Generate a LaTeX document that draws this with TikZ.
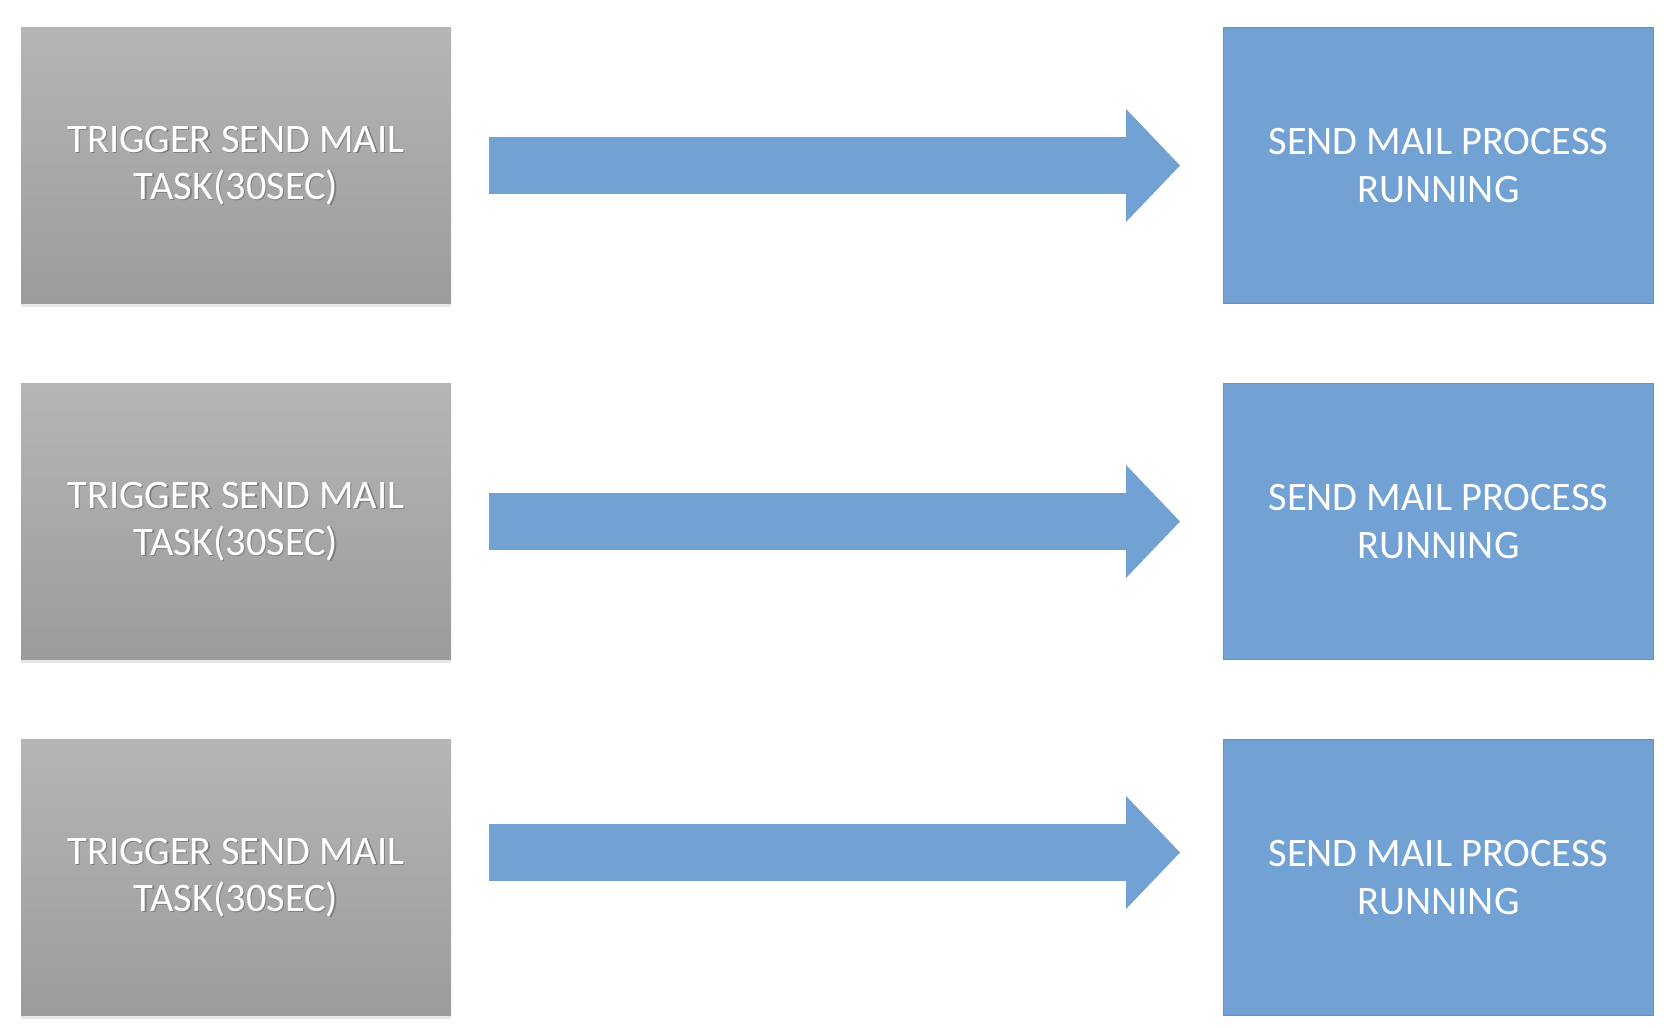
\documentclass[tikz,border=0pt]{standalone}
\usepackage{fontspec}
\setmainfont{Carlito}
\usetikzlibrary{positioning, arrows.meta, shadows}

\definecolor{boxblue}{HTML}{72A1D4}
\definecolor{boxblueline}{HTML}{6391C4}
\newcommand\shtxt[1]{\leavevmode\rlap{\smash{\raisebox{-0.8pt}{\hspace{0.8pt}\textcolor{black!50}{#1}}}}#1}

\begin{document}
\begin{tikzpicture}
    \tikzstyle{task} = [rectangle, minimum width=8.6cm, minimum height=5.52cm, outer sep=0pt,
                        top color=black!29, bottom color=black!39, text=white, align=center,
                        font=\fontsize{23}{27}\selectfont,
                        drop shadow={shadow xshift=0pt, shadow yshift=-2pt, opacity=0.2}]
    \tikzstyle{process} = [rectangle, draw=boxblueline, fill=boxblue, minimum width=8.6cm,
                        minimum height=5.52cm, outer sep=0pt, text=white, align=center,
                        font=\fontsize{23}{27}\selectfont]
    \tikzstyle{bigarrow} = [draw=boxblue, line width=32.1pt,
                        -{Triangle[length=30.7pt, width=64.3pt, line width=0pt]}]
  \useasboundingbox (0,0) rectangle (33.28,-20.56);
  \node[task, anchor=north west] (trig1) at (0.42,-0.55) {\shtxt{TRIGGER SEND MAIL}\\\shtxt{TASK(30SEC)}};
  \node[task, below=1.6cm of trig1] (trig2) {\shtxt{TRIGGER SEND MAIL}\\\shtxt{TASK(30SEC)}};
  \node[task, below=1.6cm of trig2] (trig3) {\shtxt{TRIGGER SEND MAIL}\\\shtxt{TASK(30SEC)}};
  \node[process, right=15.45cm of trig1] (proc1) {SEND MAIL PROCESS\\RUNNING};
  \node[process, right=15.45cm of trig2] (proc2) {SEND MAIL PROCESS\\RUNNING};
  \node[process, right=15.45cm of trig3] (proc3) {SEND MAIL PROCESS\\RUNNING};
  \draw[bigarrow] ([xshift=0.76cm]trig1.east) -- ([xshift=-0.87cm]proc1.west);
  \draw[bigarrow] ([xshift=0.76cm]trig2.east) -- ([xshift=-0.87cm]proc2.west);
  \draw[bigarrow] ([xshift=0.76cm, yshift=0.5cm]trig3.east) -- ([xshift=-0.87cm, yshift=0.5cm]proc3.west);
\end{tikzpicture}
\end{document}
